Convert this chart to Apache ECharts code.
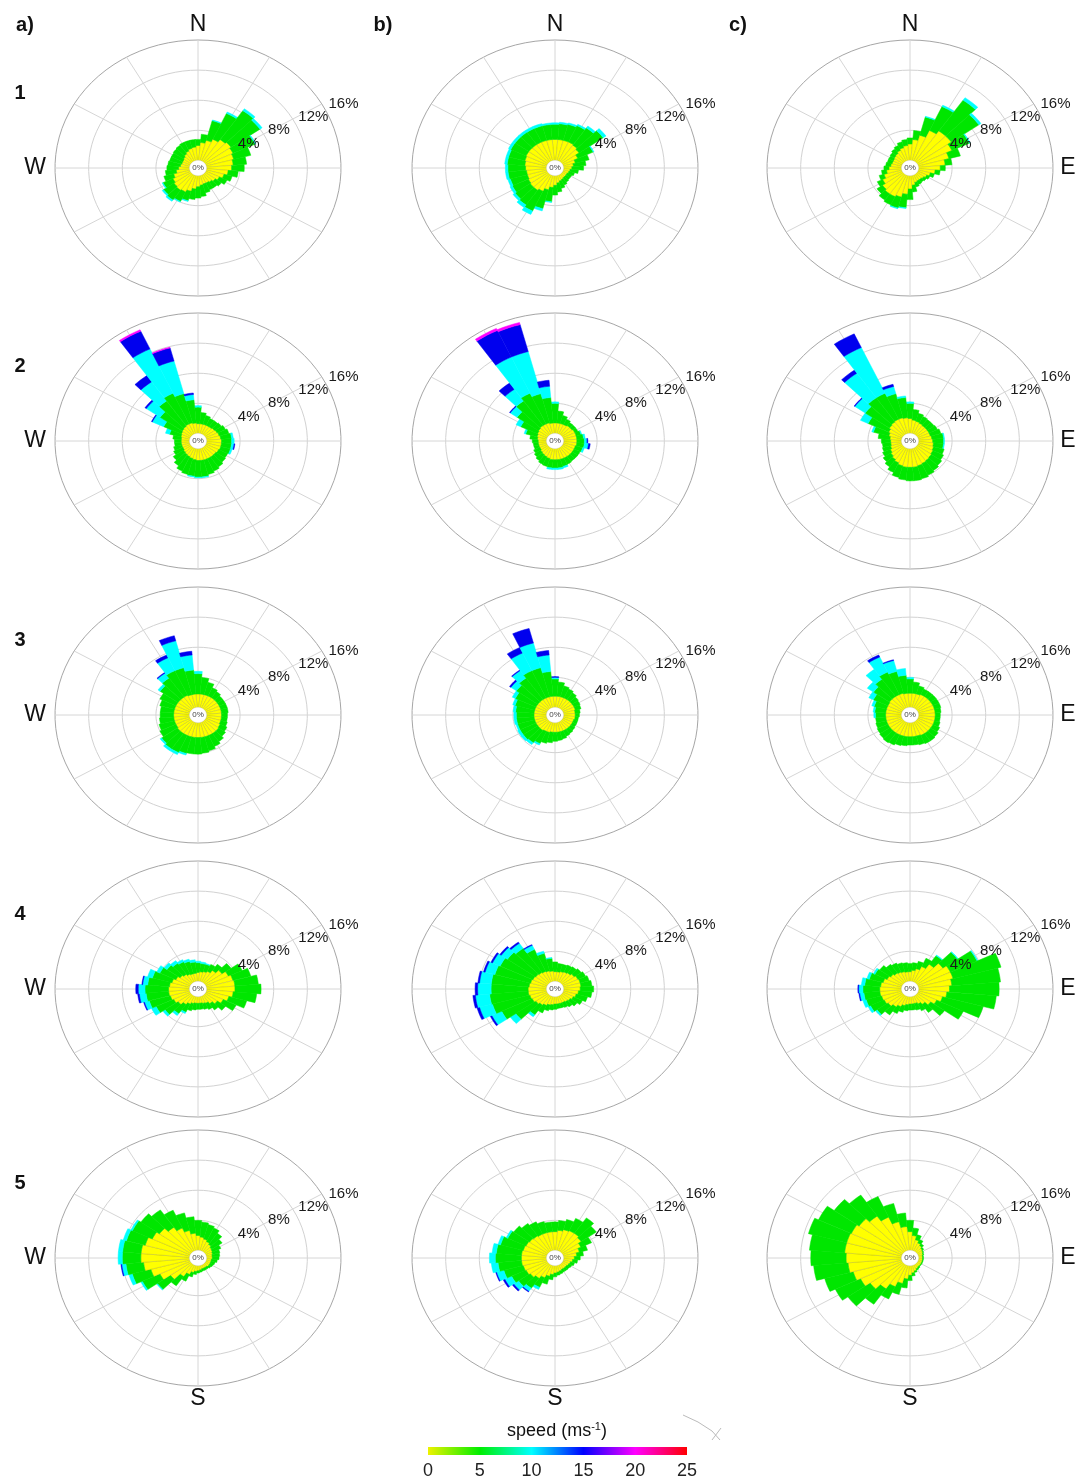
<!DOCTYPE html>
<html lang="en">
<head>
    <meta charset="UTF-8">
    <title>wind roses</title>
    <script src="https://cdn.jsdelivr.net/npm/echarts@6/dist/echarts.min.js"></script>
    <style>
        html, body { margin: 0; padding: 0; background: #fff; }
        #main { width: 1080px; height: 1481px; }
    </style>
</head>
<body>
<div id="main"></div>
<script>
    // sector centres, degrees clockwise from north
    var directions = [0, 10, 20, 30, 40, 50, 60, 70, 80, 90, 100, 110, 120, 130, 140, 150, 160, 170,
        180, 190, 200, 210, 220, 230, 240, 250, 260, 270, 280, 290, 300, 310, 320, 330, 340, 350];
    var ringTicks = [4, 8, 12, 16];
    var spokeAngles = [0, 30, 60, 90, 120, 150, 180, 210, 240, 270, 300, 330];
    var speedTicks = [0, 5, 10, 15, 20, 25];
    var binColors = ['#ffff00', '#00e600', '#00ffff', '#0000ee', '#ff00ff'];

    // frequency (%) per sector for each speed bin (ms-1): 0-5, 5-10, 10-15, 15-20, 20-25
    var a1_0_5 = [2.0,2.4,2.8,3.2,3.6,3.8,3.6,3.4,3.2,3.0,2.6,2.2,1.8,1.5,1.3,1.2,1.2,1.3,1.5,1.8,2.2,2.5,2.6,2.5,2.3,2.0,1.6,1.3,1.1,1.0,1.0,1.1,1.3,1.5,1.7,1.8];
    var a1_5_10 = [0.8,1.1,2.7,3.8,4.7,4.2,2.9,2.1,1.6,1.5,1.2,1.0,1.0,0.9,0.9,1.0,1.2,1.5,1.5,1.4,1.3,1.4,1.6,1.5,1.3,1.2,1.3,1.4,1.5,1.5,1.5,1.5,1.4,1.3,1.1,1.0];
    var a1_10_15 = [0,0,0.1,0.2,0.3,0.3,0.1,0,0,0,0,0,0,0,0,0,0,0,0,0,0.1,0.1,0.2,0.2,0.1,0,0,0,0,0,0,0,0,0,0,0];

    var b1_0_5 = [2.8,2.8,2.8,2.8,2.7,2.5,2.0,1.5,1.2,1.0,0.8,0.7,0.6,0.6,0.6,0.7,0.8,1.0,1.3,1.6,2.0,2.4,2.6,2.6,2.5,2.4,2.4,2.5,2.6,2.7,2.8,2.8,2.8,2.8,2.8,2.8];
    var b1_5_10 = [2.0,2.1,2.2,2.4,2.8,3.5,2.0,1.7,1.5,1.4,1.0,0.7,0.6,0.6,0.7,0.8,1.0,1.2,1.3,1.9,2.6,2.9,2.4,2.2,2.1,2.1,2.2,2.1,2.1,2.0,2.0,2.0,2.0,2.0,2.0,2.0];
    var b1_10_15 = [0.2,0.2,0.2,0.2,0.3,0.4,0.1,0,0,0,0,0,0,0,0,0,0,0,0,0.1,0.3,0.5,0.4,0.3,0.3,0.3,0.3,0.3,0.3,0.3,0.3,0.3,0.3,0.3,0.3,0.2];

    var c1_0_5 = [2.2,2.8,3.5,4.5,5.0,5.0,4.5,3.8,3.2,2.6,2.0,1.5,1.2,1.0,0.9,0.9,1.0,1.3,1.8,2.5,3.0,3.2,3.2,3.0,2.6,2.2,1.8,1.5,1.3,1.2,1.2,1.3,1.4,1.6,1.8,2.0];
    var c1_5_10 = [0.8,1.2,2.5,3.5,5.0,4.0,2.3,1.4,0.8,0.6,0.6,0.5,0.4,0.4,0.4,0.5,0.6,0.9,1.4,1.8,1.5,1.2,1.0,0.8,0.7,0.6,0.6,0.6,0.6,0.6,0.6,0.6,0.7,0.7,0.8,0.8];
    var c1_10_15 = [0,0,0.1,0.2,0.4,0.3,0.1,0,0,0,0,0,0,0,0,0,0,0,0,0.1,0.1,0,0,0,0,0,0,0,0,0,0,0,0,0,0,0];

    var a2_0_5 = [1.3,1.3,1.3,1.3,1.3,1.4,1.5,1.6,1.7,1.8,1.8,1.8,1.7,1.6,1.6,1.6,1.6,1.6,1.6,1.5,1.4,1.3,1.2,1.1,1.0,1.0,1.0,1.0,1.0,1.1,1.2,1.3,1.4,1.5,1.5,1.4];
    var a2_5_10 = [2.2,1.5,1.2,1.0,1.0,1.0,1.1,1.2,1.3,1.2,1.2,1.2,1.2,1.4,1.6,1.8,2.0,2.2,2.2,2.2,2.2,2.1,1.8,1.5,1.2,1.0,0.8,0.8,1.0,1.4,2.3,3.2,4.1,4.5,4.0,3.1];
    var a2_10_15 = [0.2,0,0,0,0,0,0,0,0.2,0.3,0.3,0.2,0,0,0,0,0,0.1,0.1,0.1,0,0,0,0,0,0,0,0,0,0.5,1.5,2.0,3.1,6.5,4.5,0.7];
    var a2_15_20 = [0,0,0,0,0,0,0,0,0,0,0.1,0,0,0,0,0,0,0,0,0,0,0,0,0,0,0,0,0,0,0,0.1,0.2,1.0,2.6,1.8,0.2];
    var a2_20_25 = [0,0,0,0,0,0,0,0,0,0,0,0,0,0,0,0,0,0,0,0,0,0,0,0,0,0,0,0,0,0,0,0,0,0.2,0.1,0];

    var b2_0_5 = [1.4,1.4,1.4,1.4,1.5,1.5,1.6,1.6,1.6,1.6,1.6,1.5,1.5,1.5,1.5,1.5,1.5,1.5,1.5,1.5,1.4,1.3,1.2,1.1,1.0,1.0,1.0,1.0,1.1,1.2,1.3,1.4,1.5,1.5,1.5,1.4];
    var b2_5_10 = [2.6,1.6,1.1,0.8,0.5,0.5,0.4,0.6,0.8,0.9,0.9,0.9,0.8,0.8,0.8,0.9,1.0,1.1,1.1,1.1,1.1,1.1,1.0,0.9,0.8,0.6,0.6,0.7,0.9,1.4,2.2,3.1,4.0,4.5,4.0,3.4];
    var b2_10_15 = [0.2,0,0,0,0,0,0,0.1,0.2,0.3,0.5,0.2,0,0,0,0,0.2,0.2,0.2,0.2,0,0,0,0,0,0,0,0,0,0.2,0.6,1.0,1.9,5.3,5.8,1.5];
    var b2_15_20 = [0,0,0,0,0,0,0,0,0,0.1,0.2,0,0,0,0,0,0,0,0,0,0,0,0,0,0,0,0,0,0,0,0,0.1,1.0,3.9,3.7,0.8];
    var b2_20_25 = [0,0,0,0,0,0,0,0,0,0,0,0,0,0,0,0,0,0,0,0,0,0,0,0,0,0,0,0,0,0,0,0,0,0.3,0.3,0];

    var c2_0_5 = [2.0,1.8,1.7,1.6,1.5,1.5,1.5,1.5,1.6,1.7,1.8,1.9,2.0,2.1,2.2,2.3,2.4,2.5,2.5,2.5,2.4,2.2,2.0,1.8,1.6,1.4,1.3,1.3,1.4,1.6,1.8,2.0,2.1,2.2,2.2,2.1];
    var c2_5_10 = [2.0,1.4,1.1,1.0,1.0,1.0,1.1,1.3,1.4,1.3,1.2,1.3,1.4,1.5,1.6,1.7,1.8,1.8,1.8,1.7,1.6,1.4,1.2,1.1,1.0,1.0,1.0,1.1,1.4,1.9,2.7,3.5,3.9,3.8,3.3,2.7];
    var c2_10_15 = [0.2,0,0,0,0,0,0,0,0.1,0.1,0.1,0,0,0,0,0,0,0,0,0,0,0,0,0,0,0,0,0,0,0.2,1.0,1.5,4.0,6.7,1.0,0.2];
    var c2_15_20 = [0,0,0,0,0,0,0,0,0,0,0,0,0,0,0,0,0,0,0,0,0,0,0,0,0,0,0,0,0,0,0,0.1,0.5,2.0,0.3,0];

    var a3_0_5 = [1.8,1.8,1.8,1.8,1.8,1.8,1.8,1.8,1.8,1.8,1.8,1.8,1.9,2.0,2.0,2.0,2.0,2.0,2.0,2.0,2.0,2.0,2.0,2.0,1.9,1.9,1.9,1.9,1.9,1.9,1.9,1.9,1.9,1.9,1.8,1.8];
    var a3_5_10 = [2.7,2.2,1.7,1.2,1.0,0.8,0.8,0.8,0.8,0.7,0.7,0.8,0.9,1.0,1.3,1.6,1.9,2.1,2.2,2.2,2.3,2.5,2.5,2.3,2.1,1.9,1.7,1.6,1.6,1.8,2.1,2.6,3.1,3.6,3.7,3.2];
    var a3_10_15 = [0.3,0,0,0,0,0,0,0,0,0,0,0,0,0,0,0,0,0,0,0,0.2,0.3,0.3,0.2,0,0,0,0,0,0,0,0.3,0.8,1.9,3.7,2.0];
    var a3_15_20 = [0,0,0,0,0,0,0,0,0,0,0,0,0,0,0,0,0,0,0,0,0,0,0,0,0,0,0,0,0,0,0,0,0.1,0.4,0.7,0.5];

    var b3_0_5 = [1.5,1.5,1.5,1.5,1.5,1.5,1.5,1.5,1.4,1.4,1.4,1.3,1.3,1.3,1.3,1.3,1.3,1.3,1.3,1.3,1.4,1.4,1.5,1.5,1.5,1.5,1.5,1.5,1.5,1.5,1.5,1.5,1.5,1.5,1.5,1.5];
    var b3_5_10 = [2.3,1.9,1.5,1.3,1.1,0.9,0.8,0.7,0.6,0.5,0.4,0.5,0.5,0.6,0.7,0.8,1.0,1.1,1.2,1.4,1.5,1.8,2.0,2.1,2.1,2.1,2.1,2.1,2.2,2.4,2.7,3.1,3.5,4.0,4.0,3.3];
    var b3_10_15 = [0.2,0,0,0,0,0,0,0,0,0,0,0,0,0,0,0,0,0,0,0,0,0.2,0.3,0.3,0.3,0.2,0.3,0.3,0.3,0.3,0.4,0.8,1.2,2.6,3.4,2.2];
    var b3_15_20 = [0.1,0,0,0,0,0,0,0,0,0,0,0,0,0,0,0,0,0,0,0,0,0,0,0,0,0,0,0,0,0,0,0.2,0.1,0.8,2.0,0.6];

    var c3_0_5 = [1.9,1.9,1.9,2.0,2.0,2.0,2.0,2.0,2.0,2.0,2.0,2.0,2.0,2.0,2.0,2.0,1.9,1.9,1.9,1.9,1.9,1.9,1.9,1.9,1.9,1.9,1.9,1.9,1.9,1.9,1.9,2.0,2.0,2.0,2.0,1.9];
    var c3_5_10 = [1.9,1.5,1.1,0.8,0.8,0.8,0.8,0.8,0.7,0.6,0.6,0.7,0.9,1.1,1.2,1.2,1.2,1.1,1.1,1.2,1.3,1.5,1.6,1.5,1.4,1.3,1.2,1.2,1.3,1.5,1.9,2.3,2.8,3.3,3.0,2.4];
    var c3_10_15 = [0.2,0,0,0,0,0,0,0,0,0,0,0,0,0,0,0,0,0,0,0,0,0,0,0,0,0,0,0.2,0.2,0.3,0.6,0.9,1.6,2.2,1.5,0.9];
    var c3_15_20 = [0,0,0,0,0,0,0,0,0,0,0,0,0,0,0,0,0,0,0,0,0,0,0,0,0,0,0,0,0,0,0,0,0,0.3,0.1,0];

    var a4_0_5 = [1.2,1.3,1.4,1.6,2.0,2.5,3.0,3.3,3.4,3.4,3.2,2.8,2.3,1.8,1.4,1.1,1.0,0.9,0.9,0.9,1.0,1.2,1.5,1.9,2.2,2.4,2.5,2.5,2.4,2.2,1.9,1.6,1.4,1.2,1.1,1.1];
    var a4_5_10 = [1.3,1.1,1.0,1.0,1.0,1.3,1.8,2.2,2.8,3.1,2.8,2.2,1.7,1.2,1.0,0.9,0.8,0.8,0.8,0.9,1.0,1.2,1.5,1.9,2.3,2.6,2.7,2.8,2.6,2.4,2.1,1.9,1.8,1.8,1.7,1.5];
    var a4_10_15 = [0.2,0.2,0.1,0,0,0,0,0,0,0,0,0,0,0,0,0,0,0,0,0,0,0.2,0.3,0.3,0.6,0.6,0.8,0.8,0.6,0.6,0.4,0.4,0.4,0.3,0.3,0.3];
    var a4_15_20 = [0,0,0,0,0,0,0,0,0,0,0,0,0,0,0,0,0,0,0,0,0,0,0,0,0,0.1,0.2,0.3,0.1,0,0,0,0,0,0,0];

    var b4_0_5 = [1.3,1.3,1.4,1.5,1.6,1.8,2.0,2.1,2.1,2.0,1.8,1.6,1.4,1.2,1.1,1.0,1.0,1.0,1.0,1.1,1.2,1.4,1.6,1.8,2.0,2.1,2.2,2.2,2.1,2.0,1.9,1.8,1.7,1.6,1.5,1.4];
    var b4_5_10 = [1.3,1.1,1.0,1.0,1.0,1.0,1.0,1.1,1.3,1.6,1.6,1.4,1.2,1.0,0.8,0.7,0.6,0.6,0.7,0.7,0.8,1.1,1.6,2.9,4.0,4.6,4.6,4.4,4.5,4.4,4.3,4.1,3.9,3.2,2.4,1.7];
    var b4_10_15 = [0,0,0,0,0,0,0,0,0,0,0,0,0,0,0,0,0,0,0,0,0,0,0.3,0.8,1.3,1.6,1.7,1.6,1.4,1.2,1.0,0.9,0.8,0.6,0.3,0.1];
    var b4_15_20 = [0,0,0,0,0,0,0,0,0,0,0,0,0,0,0,0,0,0,0,0,0,0,0,0,0.2,0.3,0.3,0.3,0.2,0.2,0.2,0.2,0.2,0.1,0,0];

    var c4_0_5 = [1.3,1.5,1.8,2.3,3.0,3.8,4.3,4.3,4.0,3.7,3.4,3.0,2.5,2.0,1.5,1.2,1.0,1.0,1.0,1.1,1.3,1.6,1.9,2.2,2.4,2.5,2.6,2.6,2.5,2.3,2.0,1.8,1.6,1.5,1.4,1.3];
    var c4_5_10 = [1.1,1.0,1.0,1.2,1.4,2.1,3.5,5.9,5.8,5.9,5.9,5.0,3.5,2.0,1.3,1.0,0.9,0.8,0.8,0.8,0.9,1.0,1.3,1.6,1.8,1.9,1.9,2.0,1.9,1.7,1.6,1.6,1.4,1.3,1.2,1.2];
    var c4_10_15 = [0,0,0,0,0.1,0.1,0.1,0,0,0,0,0,0,0,0,0,0,0,0,0,0,0,0,0.2,0.3,0.4,0.5,0.5,0.4,0.3,0.2,0,0,0,0,0];
    var c4_15_20 = [0,0,0,0,0,0,0,0,0,0,0,0,0,0,0,0,0,0,0,0,0,0,0,0,0,0,0.1,0.1,0,0,0,0,0,0,0,0];

    var a5_0_5 = [2.0,1.8,1.6,1.4,1.2,1.0,0.9,0.8,0.7,0.7,0.6,0.6,0.6,0.6,0.5,0.5,0.5,0.6,0.7,0.8,1.0,1.4,2.0,3.0,4.0,4.8,5.5,5.8,5.8,5.5,5.0,4.6,4.0,3.4,2.8,2.3];
    var a5_5_10 = [2.0,2.0,2.0,2.0,1.8,1.5,1.1,0.9,0.9,0.8,0.7,0.5,0.4,0.3,0.3,0.3,0.3,0.3,0.3,0.4,0.6,1.0,1.5,1.9,2.3,2.3,2.1,2.2,2.2,2.3,2.6,2.7,2.8,2.6,2.4,2.2];
    var a5_10_15 = [0,0,0,0,0,0,0,0,0,0,0,0,0,0,0,0,0,0,0,0,0,0,0,0.1,0.2,0.4,0.5,0.5,0.5,0.4,0.2,0,0,0,0,0];
    var a5_15_20 = [0,0,0,0,0,0,0,0,0,0,0,0,0,0,0,0,0,0,0,0,0,0,0,0,0,0,0.1,0,0,0,0,0,0,0,0,0];

    var b5_0_5 = [2.5,2.7,2.9,3.0,3.0,2.8,2.4,2.0,1.6,1.3,1.1,0.9,0.8,0.7,0.7,0.7,0.8,0.9,1.0,1.2,1.5,1.9,2.3,2.6,2.8,2.9,3.0,3.0,3.0,2.9,2.8,2.7,2.6,2.5,2.5,2.5];
    var b5_5_10 = [1.3,1.3,1.4,1.8,2.5,2.2,1.4,1.0,0.8,0.7,0.6,0.5,0.4,0.4,0.4,0.4,0.4,0.4,0.5,0.7,1.1,1.4,1.6,1.7,1.9,2.4,2.8,3.1,3.0,2.8,2.4,2.3,2.0,1.8,1.5,1.3];
    var b5_10_15 = [0,0,0,0,0,0,0,0,0,0,0,0,0,0,0,0,0,0,0,0,0,0.3,0.5,0.7,0.9,0.9,0.8,0.7,0.5,0.3,0.2,0,0,0,0,0];
    var b5_15_20 = [0,0,0,0,0,0,0,0,0,0,0,0,0,0,0,0,0,0,0,0,0,0,0.1,0.2,0.2,0.1,0,0,0,0,0,0,0,0,0,0];

    var c5_0_5 = [2.5,2.0,1.5,1.2,1.0,0.8,0.7,0.6,0.5,0.5,0.5,0.5,0.5,0.5,0.5,0.6,0.8,1.0,1.3,1.8,2.5,3.2,4.0,4.8,5.5,6.0,6.4,6.6,6.8,6.8,6.7,6.4,5.8,5.0,4.0,3.2];
    var c5_5_10 = [1.5,1.0,0.7,0.5,0.3,0.2,0.1,0.1,0.1,0.1,0.1,0.1,0.1,0.1,0.2,0.2,0.2,0.4,0.7,1.2,1.5,1.8,2.5,3.2,3.3,3.5,4.1,4.2,4.2,4.7,4.3,3.6,3.4,3.0,2.5,1.8];

    var panels = [
        [a1_0_5, a1_5_10, a1_10_15], [b1_0_5, b1_5_10, b1_10_15], [c1_0_5, c1_5_10, c1_10_15],
        [a2_0_5, a2_5_10, a2_10_15, a2_15_20, a2_20_25], [b2_0_5, b2_5_10, b2_10_15, b2_15_20, b2_20_25], [c2_0_5, c2_5_10, c2_10_15, c2_15_20],
        [a3_0_5, a3_5_10, a3_10_15, a3_15_20], [b3_0_5, b3_5_10, b3_10_15, b3_15_20], [c3_0_5, c3_5_10, c3_10_15, c3_15_20],
        [a4_0_5, a4_5_10, a4_10_15, a4_15_20], [b4_0_5, b4_5_10, b4_10_15, b4_15_20], [c4_0_5, c4_5_10, c4_10_15, c4_15_20],
        [a5_0_5, a5_5_10, a5_10_15, a5_15_20], [b5_0_5, b5_5_10, b5_10_15, b5_15_20], [c5_0_5, c5_5_10]
    ];

    var FONT = '"Liberation Sans", Arial, sans-serif';
    var colX = [198, 555, 910];
    var rowY = [168, 441, 715, 989, 1258];
    var RX = 143, RY = 128;      // outer ring half axes (px)
    var HOLE = 1;                // centre hole, in % units
    var RMAX = HOLE + ringTicks[ringTicks.length - 1];

    function polar(r, deg) {
        var t = deg * Math.PI / 180;
        return [r * Math.sin(t), r * Math.cos(t)];
    }

    function ringPts(api, r) {
        var pts = [];
        for (var a = 0; a <= 360; a += 4) pts.push(api.coord(polar(r, a)));
        return pts;
    }

    function renderFrame(params, api) {
        var kind = api.value(0), v = api.value(1);
        if (kind === 0) {
            return {
                type: 'polyline', shape: {points: ringPts(api, HOLE + v)},
                style: {stroke: v === ringTicks[ringTicks.length - 1] ? '#a6a6a6' : '#d2d2d2', lineWidth: 1, fill: null}
            };
        }
        var p0 = api.coord(polar(HOLE, v)), p1 = api.coord(polar(RMAX, v));
        return {
            type: 'line', shape: {x1: p0[0], y1: p0[1], x2: p1[0], y2: p1[1]},
            style: {stroke: '#d6d6d6', lineWidth: 1}
        };
    }

    function renderBar(params, api) {
        var dir = api.value(0), k = api.value(1);
        var r0 = HOLE + api.value(2), r1 = HOLE + api.value(3);
        var pts = [], s;
        for (s = 0; s <= 4; s++) pts.push(api.coord(polar(r1, dir - 5 + s * 2.5)));
        for (s = 4; s >= 0; s--) pts.push(api.coord(polar(r0, dir - 5 + s * 2.5)));
        return {
            type: 'polygon', shape: {points: pts},
            style: {fill: binColors[k], stroke: k === 0 ? 'rgba(150,150,40,0.55)' : binColors[k], lineWidth: 0.5}
        };
    }

    function renderMarks(params, api) {
        var kind = api.value(0), v = api.value(1);
        if (kind === 0) {
            var p = api.coord(polar(HOLE + v, 64));
            return {
                type: 'text', x: p[0] + 2, y: p[1] - 8,
                style: {text: v + '%', fill: '#1a1a1a', fontSize: 15, fontFamily: FONT, align: 'left', verticalAlign: 'middle'}
            };
        }
        var c = api.coord([0, 0]);
        return {
            type: 'group', children: [
                {type: 'polygon', shape: {points: ringPts(api, HOLE)}, style: {fill: '#fff', stroke: '#e0e0e0', lineWidth: 0.5}},
                {type: 'text', x: c[0], y: c[1], style: {text: '0%', fill: '#444', fontSize: 8, fontFamily: FONT, align: 'center', verticalAlign: 'middle'}}
            ]
        };
    }

    var grids = [], xAxes = [], yAxes = [], series = [];
    var frameData = [], markData = [[1, 0]];
    ringTicks.forEach(function (t) { frameData.push([0, t]); markData.push([0, t]); });
    spokeAngles.forEach(function (a) { frameData.push([1, a]); });

    panels.forEach(function (bins, i) {
        var cx = colX[i % 3], cy = rowY[Math.floor(i / 3)];
        grids.push({left: cx - RX, top: cy - RY, width: 2 * RX, height: 2 * RY, containLabel: false});
        xAxes.push({type: 'value', gridIndex: i, min: -RMAX, max: RMAX, show: false});
        yAxes.push({type: 'value', gridIndex: i, min: -RMAX, max: RMAX, show: false});

        // stack the bins outward from the hole
        var barData = [];
        directions.forEach(function (d, j) {
            var acc = 0;
            bins.forEach(function (arr, k) {
                var v = arr[j];
                if (v > 0) barData.push([d, k, acc, acc + v]);
                acc += v;
            });
        });

        series.push({type: 'custom', xAxisIndex: i, yAxisIndex: i, z: 1, silent: true, renderItem: renderFrame, data: frameData});
        series.push({type: 'custom', xAxisIndex: i, yAxisIndex: i, z: 2, silent: true, renderItem: renderBar, data: barData});
        series.push({type: 'custom', xAxisIndex: i, yAxisIndex: i, z: 3, silent: true, renderItem: renderMarks, data: markData});
    });

    // colour bar
    var cb = grids.length;
    grids.push({left: 428, top: 1447, width: 259, height: 8});
    xAxes.push({
        type: 'value', gridIndex: cb, min: speedTicks[0], max: speedTicks[speedTicks.length - 1], interval: 5,
        axisLine: {show: false}, axisTick: {show: false}, splitLine: {show: false},
        axisLabel: {fontSize: 18, color: '#222', fontFamily: FONT, margin: 7}
    });
    yAxes.push({type: 'value', gridIndex: cb, min: 0, max: 1, show: false});
    series.push({
        type: 'custom', xAxisIndex: cb, yAxisIndex: cb, silent: true,
        data: [[speedTicks[0], speedTicks[speedTicks.length - 1]]],
        renderItem: function (params, api) {
            var p0 = api.coord([api.value(0), 1]), p1 = api.coord([api.value(1), 0]);
            return {
                type: 'rect', shape: {x: p0[0], y: p0[1], width: p1[0] - p0[0], height: p1[1] - p0[1]},
                style: {
                    fill: new echarts.graphic.LinearGradient(0, 0, 1, 0, [
                        {offset: 0, color: '#eef200'}, {offset: 0.2, color: '#00ee00'},
                        {offset: 0.4, color: '#00ffff'}, {offset: 0.6, color: '#0000ff'},
                        {offset: 0.8, color: '#ff00ff'}, {offset: 1, color: '#ff0000'}
                    ])
                }
            };
        }
    });

    var texts = [];
    function addText(txt, x, y, size, bold) {
        texts.push({
            type: 'text', x: x, y: y, silent: true,
            style: {text: txt, fontSize: size, fontWeight: bold ? 'bold' : 'normal', fill: '#111', fontFamily: FONT, align: 'center', verticalAlign: 'middle'}
        });
    }
    ['a)', 'b)', 'c)'].forEach(function (t, i) { addText(t, [25, 383, 738][i], 25, 20, true); });
    ['1', '2', '3', '4', '5'].forEach(function (t, i) { addText(t, 20, rowY[i] - 75, 20, true); });
    colX.forEach(function (x) { addText('N', x, 25, 23); addText('S', x, 1399, 23); });
    rowY.forEach(function (y) { addText('W', 35, y, 23); addText('E', 1068, y, 23); });
    texts.push({
        type: 'text', x: 557, y: 1431, silent: true,
        style: {
            text: '{a|speed (ms}{s|-1}{a|)}', align: 'center', verticalAlign: 'middle', fill: '#111',
            rich: {a: {fontSize: 18, fontFamily: FONT, fill: '#111'}, s: {fontSize: 11, fontFamily: FONT, fill: '#111', padding: [0, 0, 9, 0]}}
        }
    });
    texts.push({type: 'polyline', silent: true, shape: {points: [[683, 1415], [698, 1422], [712, 1431], [720, 1440]]}, style: {stroke: '#bbb', lineWidth: 1, fill: null}});
    texts.push({type: 'line', silent: true, shape: {x1: 712, y1: 1440, x2: 721, y2: 1428}, style: {stroke: '#bbb', lineWidth: 1}});

    var chart = echarts.init(document.getElementById('main'));
    chart.setOption({
        backgroundColor: '#ffffff',
        animation: false,
        grid: grids,
        xAxis: xAxes,
        yAxis: yAxes,
        series: series,
        graphic: texts
    });
</script>
</body>
</html>
